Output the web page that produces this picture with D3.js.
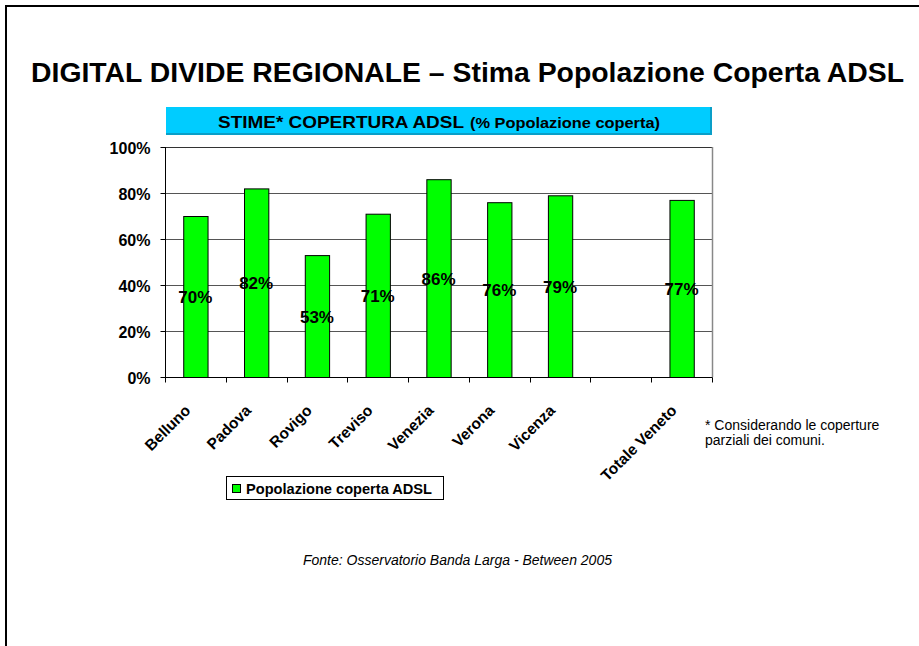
<!DOCTYPE html>
<html>
<head>
<meta charset="utf-8">
<script src="https://cdn.jsdelivr.net/npm/d3@7"></script>
<style>
  body { margin: 0; background: #fff; }
  svg { display: block; font-family: Arial, "Liberation Sans", sans-serif; }
</style>
</head>
<body>
<svg id="canvas" width="919" height="646"></svg>
<script>
// dati
let province = ['Belluno', 'Padova', 'Rovigo', 'Treviso', 'Venezia', 'Verona', 'Vicenza', '', 'Totale Veneto']
let copertura = [0.70, 0.82, 0.53, 0.71, 0.86, 0.76, 0.79, null, 0.77]
let yTicks = [0, 0.2, 0.4, 0.6, 0.8, 1]
let serieName = 'Popolazione coperta ADSL'

let canvas = d3.select('#canvas')

let margin = { top: 147, left: 165, right: 712, bottom: 377 }

// cornice esterna
canvas.append('rect')
  .attr('x', 6).attr('y', 6)
  .attr('width', 940).attr('height', 680)
  .attr('fill', 'none').attr('stroke', '#000').attr('stroke-width', 2)

canvas.append('text')
  .attr('x', 31).attr('y', 82)
  .attr('font-size', 27).attr('font-weight', 'bold')
  .attr('textLength', 873).attr('lengthAdjust', 'spacingAndGlyphs')
  .text('DIGITAL DIVIDE REGIONALE \u2013 Stima Popolazione Coperta ADSL')

// box blu del sottotitolo
canvas.append('rect')
  .attr('x', 166).attr('y', 107)
  .attr('width', 545).attr('height', 27)
  .attr('fill', '#00ccff')
canvas.append('path')
  .attr('d', 'M711,107 V134 H166')
  .attr('fill', 'none').attr('stroke', '#0a9fc8').attr('stroke-width', 2)
canvas.append('text')
  .attr('x', 218).attr('y', 128)
  .attr('font-size', 17).attr('font-weight', 'bold')
  .attr('textLength', 246).attr('lengthAdjust', 'spacingAndGlyphs')
  .text('STIME* COPERTURA ADSL')
canvas.append('text')
  .attr('x', 470).attr('y', 128)
  .attr('font-size', 14.5).attr('font-weight', 'bold')
  .attr('textLength', 190).attr('lengthAdjust', 'spacingAndGlyphs')
  .text('(% Popolazione coperta)')

let data = province.map((p, i) => ({ name: p, key: 'c' + i, value: copertura[i] }))

let x = d3.scaleBand()
  .domain(data.map(d => d.key))
  .range([margin.left, margin.right])
  .paddingInner(0.6).paddingOuter(0.3)

let slot = d3.scaleBand()
  .domain(data.map(d => d.key))
  .range([margin.left, margin.right])

let y = d3.scaleLinear()
  .domain([0, 1])
  .range([margin.bottom, margin.top])

// griglia
canvas.append('g')
  .selectAll('line')
  .data(yTicks.slice(1))
  .enter()
  .append('line')
  .attr('x1', margin.left).attr('x2', margin.right)
  .attr('y1', d => y(d) + 0.5).attr('y2', d => y(d) + 0.5)
  .attr('stroke', d => d === 1 ? '#333' : '#555').attr('stroke-width', 1)

canvas.append('line')
  .attr('x1', margin.right + 0.5).attr('x2', margin.right + 0.5)
  .attr('y1', margin.top).attr('y2', margin.bottom)
  .attr('stroke', '#888').attr('stroke-width', 1.5)

// barre
canvas.append('g')
  .selectAll('rect')
  .data(data.filter(d => d.value != null))
  .enter()
  .append('rect')
  .attr('x', d => x(d.key) + 0.5)
  .attr('y', d => y(d.value) + 0.5)
  .attr('width', x.bandwidth())
  .attr('height', d => y(0) - y(d.value))
  .attr('fill', '#00ff00')
  .attr('stroke', '#000').attr('stroke-width', 1)

// etichette valori (centrate a metà barra)
canvas.append('g')
  .selectAll('text')
  .data(data.filter(d => d.value != null))
  .enter()
  .append('text')
  .attr('x', d => x(d.key) + x.bandwidth() / 2)
  .attr('y', d => y(d.value / 2) + 6.5)
  .attr('text-anchor', 'middle')
  .attr('font-size', 17).attr('font-weight', 'bold')
  .text(d => d3.format('.0%')(d.value))

// asse y
let yAxis = canvas.append('g')
  .attr('transform', 'translate(' + (margin.left + 0.5) + ',0)')
  .call(d3.axisLeft(y).tickValues(yTicks).tickFormat(d3.format('.0%')).tickSize(5).tickPadding(10))
yAxis.select('.domain').attr('stroke', '#000').attr('d', 'M0,' + margin.top + 'V' + (margin.bottom + 0.5))
yAxis.selectAll('text').attr('font-size', 16).attr('font-weight', 'bold').attr('fill', '#000')
  .attr('dy', '0.4em')
  .attr('font-family', 'Arial, "Liberation Sans", sans-serif')

// asse x
let xAxis = canvas.append('g')
  .attr('transform', 'translate(0,' + (margin.bottom + 0.5) + ')')
xAxis.append('line')
  .attr('x1', margin.left).attr('x2', margin.right + 0.5)
  .attr('stroke', '#000')
xAxis.selectAll('line.tick')
  .data(data.map(d => slot(d.key)).concat([margin.right]))
  .enter()
  .append('line')
  .attr('class', 'tick')
  .attr('x1', d => Math.round(d) + 0.5).attr('x2', d => Math.round(d) + 0.5)
  .attr('y1', 0).attr('y2', 5)
  .attr('stroke', '#000')

xAxis.selectAll('text')
  .data(data.filter(d => d.name !== ''))
  .enter()
  .append('text')
  .attr('transform', d => 'translate(' + (slot(d.key) + slot.bandwidth() / 2 - 4) + ',34) rotate(-45)')
  .attr('text-anchor', 'end')
  .attr('font-size', 15.5).attr('font-weight', 'bold')
  .text(d => d.name)

// legenda
let legend = canvas.append('g')
legend.append('rect')
  .attr('x', 226.5).attr('y', 476.5).attr('width', 217).attr('height', 23)
  .attr('fill', '#fff').attr('stroke', '#000')
legend.append('rect')
  .attr('x', 232.5).attr('y', 484.5).attr('width', 8).attr('height', 8)
  .attr('fill', '#00ff00').attr('stroke', '#000')
legend.append('text')
  .attr('x', 246).attr('y', 493.5)
  .attr('font-size', 14.5).attr('font-weight', 'bold')
  .attr('textLength', 186).attr('lengthAdjust', 'spacingAndGlyphs')
  .text(serieName)

// note
canvas.append('text')
  .attr('x', 705).attr('y', 430).attr('font-size', 14)
  .text('* Considerando le coperture')
canvas.append('text')
  .attr('x', 705).attr('y', 445).attr('font-size', 14)
  .text('parziali dei comuni.')

canvas.append('text')
  .attr('x', 303).attr('y', 565).attr('font-size', 14).attr('font-style', 'italic')
  .text('Fonte: Osservatorio Banda Larga - Between 2005')
</script>
</body>
</html>
